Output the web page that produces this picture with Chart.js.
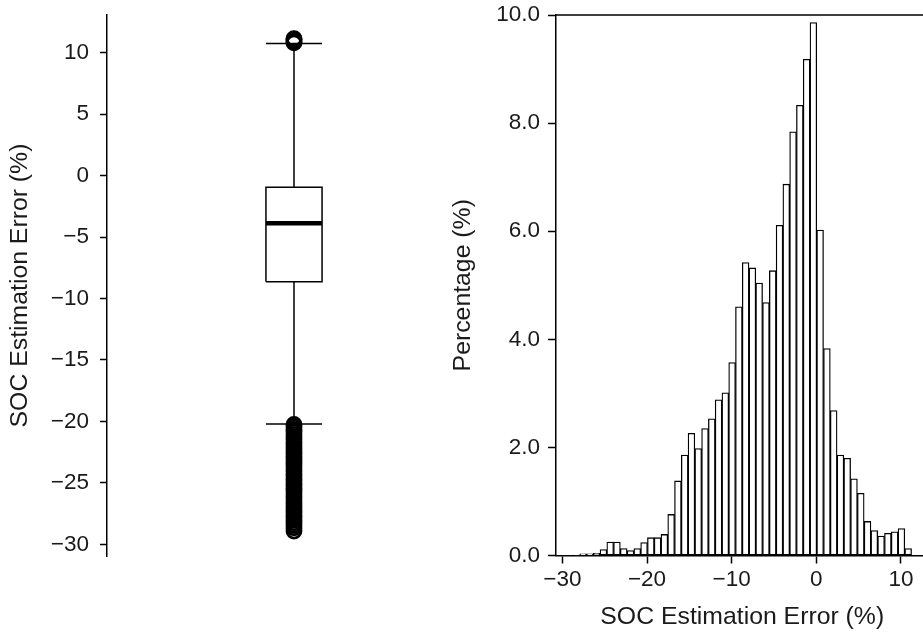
<!DOCTYPE html>
<html><head><meta charset="utf-8">
<script src="https://cdn.jsdelivr.net/npm/chart.js@4.4.1/dist/chart.umd.min.js"></script>
<style>
html,body{margin:0;padding:0;background:#fff;overflow:hidden;width:923px;height:637px;position:relative}
#c1{position:absolute;left:0;top:0}
#c2{position:absolute;left:440px;top:0}
</style></head><body>
<canvas id="c1" width="500" height="637"></canvas>
<canvas id="c2" width="500" height="637"></canvas>
<script>
// ---------- data ----------
const binCenters = [-28.35,-27.55,-26.75,-25.95,-25.15,-24.35,-23.55,-22.75,-21.95,-21.15,
  -20.35,-19.55,-18.75,-17.95,-17.15,-16.35,-15.55,-14.75,-13.95,-13.15,
  -12.35,-11.55,-10.75,-9.95,-9.15,-8.35,-7.55,-6.75,-5.95,-5.15,
  -4.35,-3.55,-2.75,-1.95,-1.15,-0.35,0.45,1.25,2.05,2.85,
  3.65,4.45,5.25,6.05,6.85,7.65,8.45,9.25,10.05,10.85];
const percentages = [0.01,0.03,0.03,0.04,0.11,0.25,0.25,0.13,0.09,0.13,
  0.24,0.33,0.33,0.39,0.76,1.38,1.86,2.26,1.98,2.35,
  2.53,2.88,3.01,3.57,4.60,5.42,5.32,5.04,4.68,5.27,
  6.11,6.87,7.84,8.33,9.18,9.86,6.02,3.83,2.68,1.86,
  1.80,1.42,1.15,0.63,0.46,0.36,0.41,0.44,0.50,0.13];
const histXTicks = [-30,-20,-10,0,10];
const histYTicks = [0,2,4,6,8,10];
const boxYTicks = [10,5,0,-5,-10,-15,-20,-25,-30];
const boxQuartiles = [-8.63,-3.88,-0.95];      // Q1, median, Q3
const boxWhiskers = [-20.2,10.75];             // lower, upper
const fliersHigh = [10.8,10.9,11.0,11.1,11.15];
const fliersLow = [-20.25,-20.45,-20.65,-20.85,-21.05,-21.25,-21.45,-21.65,-21.85,-22.05,
  -22.25,-22.45,-22.65,-22.85,-23.05,-23.25,-23.45,-23.65,-23.85,-24.05,
  -24.25,-24.45,-24.65,-24.85,-25.05,-25.25,-25.45,-25.65,-25.85,-26.05,
  -26.25,-26.45,-26.65,-26.85,-27.05,-27.25,-27.45,-27.65,-27.85,-28.05,
  -28.25,-28.45,-28.65,-28.92];

// ---------- style ----------
const FONT = "'Liberation Sans', Arial, sans-serif";
const TXT = '#1a1a1a';
const TICK_PX = 22.5, TITLE_PX = 24.8;
const BOXPOS = 1, BOXW = 0.15, CAPW = 0.075;
Chart.defaults.font.family = FONT;
Chart.defaults.color = TXT;
const fmt = v => (v < 0 ? '\u2212' + Math.abs(v) : String(v));

// ---------- box plot ----------
const lx = BOXPOS - BOXW/2, rx = BOXPOS + BOXW/2;
const lineDs = (pts, w) => ({type:'line', data: pts, borderColor:'#000', borderWidth:w,
  pointRadius:0, showLine:true, fill:false, tension:0, borderCapStyle:'butt'});
const [q1, med, q3] = boxQuartiles;
const [wLo, wHi] = boxWhiskers;
const flierDs = vals => ({type:'scatter', data: vals.map(v => ({x:BOXPOS, y:v})),
  pointStyle:'circle', pointRadius:7, pointBorderWidth:2.8, pointBorderColor:'#000',
  pointBackgroundColor:'rgba(0,0,0,0)', showLine:false});

new Chart(document.getElementById('c1'), {
  type:'scatter',
  data:{datasets:[
    lineDs([{x:lx,y:q1},{x:rx,y:q1},{x:rx,y:q3},{x:lx,y:q3},{x:lx,y:q1}], 1.5),
    lineDs([{x:lx,y:med},{x:rx,y:med}], 4.5),
    lineDs([{x:BOXPOS,y:q3},{x:BOXPOS,y:wHi}], 1.5),
    lineDs([{x:BOXPOS,y:q1},{x:BOXPOS,y:wLo}], 1.5),
    lineDs([{x:BOXPOS-CAPW,y:wHi},{x:BOXPOS+CAPW,y:wHi}], 1.5),
    lineDs([{x:BOXPOS-CAPW,y:wLo},{x:BOXPOS+CAPW,y:wLo}], 1.5),
    flierDs(fliersHigh),
    flierDs(fliersLow)
  ]},
  options:{
    responsive:false, animation:false,
    layout:{padding:{top:15,right:19,bottom:81,left:0}},
    plugins:{legend:{display:false},tooltip:{enabled:false}},
    scales:{
      x:{type:'linear',min:0.5,max:1.5,display:false},
      y:{type:'linear',min:-30.95,max:13.07,
        afterFit(s){s.width=107;},
        afterBuildTicks(s){s.ticks = boxYTicks.map(v=>({value:v}));},
        border:{display:true,color:'#000',width:1.5},
        grid:{display:true,drawOnChartArea:false,drawTicks:true,tickLength:7,tickColor:'#000',tickWidth:1.5},
        ticks:{font:{size:TICK_PX,lineHeight:0.3},color:TXT,padding:11,callback:v=>fmt(v)},
        title:{display:true,text:'SOC Estimation Error (%)',font:{size:TITLE_PX},color:TXT,padding:{top:5,bottom:0}}
      }
    }
  }
});

// ---------- histogram ----------
const topSpine = {
  id:'topSpine',
  afterDraw(chart){
    const {ctx, chartArea:a} = chart;
    ctx.save(); ctx.strokeStyle='#000'; ctx.lineWidth=1.5;
    ctx.beginPath(); ctx.moveTo(a.left, a.top); ctx.lineTo(a.right, a.top);
    ctx.moveTo(a.right, a.top); ctx.lineTo(a.right, a.bottom); ctx.stroke();
    ctx.restore();
  }
};

new Chart(document.getElementById('c2'), {
  type:'bar',
  data:{datasets:[{
    data: binCenters.map((x,i)=>({x:x, y:percentages[i]})),
    backgroundColor:'#ffffff', borderColor:'#000', borderWidth:1.3, borderSkipped:false,
    barPercentage:1, categoryPercentage:1
  }]},
  options:{
    responsive:false, animation:false,
    layout:{padding:{top:15,right:11.5,bottom:0,left:0}},
    plugins:{legend:{display:false},tooltip:{enabled:false}},
    scales:{
      x:{type:'linear',min:-30.75,max:13.25,offset:false,
        afterFit(s){s.height=81.5;},
        afterBuildTicks(s){s.ticks = histXTicks.map(v=>({value:v}));},
        border:{display:true,color:'#000',width:1.5},
        grid:{display:true,offset:false,drawOnChartArea:false,drawTicks:true,tickLength:8,tickColor:'#000',tickWidth:1.5},
        ticks:{font:{size:TICK_PX},color:TXT,padding:3,maxRotation:0,callback:v=>fmt(v)},
        title:{display:true,text:'SOC Estimation Error (%)',font:{size:TITLE_PX},color:TXT,padding:{top:0,bottom:5}}
      },
      y:{type:'linear',min:0,max:10,
        afterFit(s){s.width=116;},
        afterBuildTicks(s){s.ticks = histYTicks.map(v=>({value:v}));},
        border:{display:true,color:'#000',width:1.5},
        grid:{display:true,drawOnChartArea:false,drawTicks:true,tickLength:8,tickColor:'#000',tickWidth:1.5},
        ticks:{font:{size:TICK_PX,lineHeight:0.3},color:TXT,padding:8,callback:v=>Number(v).toFixed(1)},
        title:{display:true,text:'Percentage (%)',font:{size:TITLE_PX},color:TXT,padding:{top:8,bottom:0}}
      }
    }
  },
  plugins:[topSpine]
});
</script>
</body></html>
